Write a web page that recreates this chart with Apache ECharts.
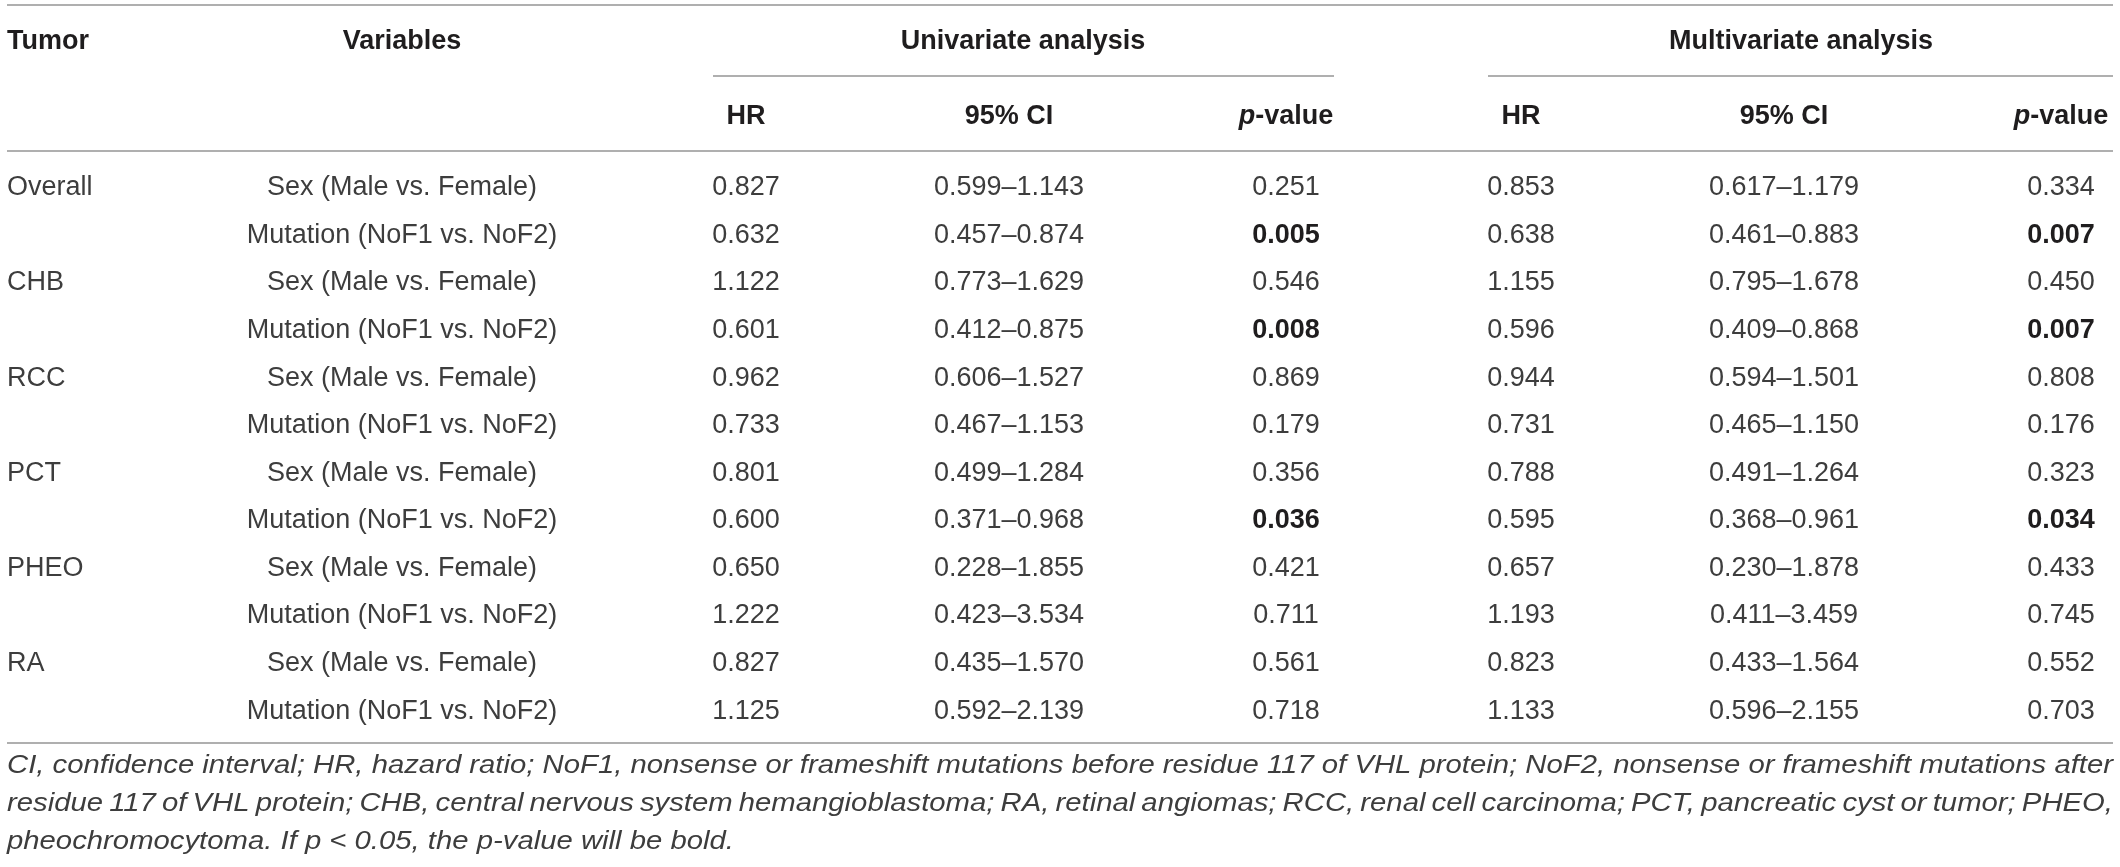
<!DOCTYPE html>
<html>
<head>
<meta charset="utf-8">
<script src="https://cdn.jsdelivr.net/npm/echarts@6/dist/echarts.min.js"></script>
<style>
    html, body { margin: 0; padding: 0; background: #ffffff; }
    #coxTable { width: 2120px; height: 867px; }
</style>
</head>
<body>
<div id="coxTable"></div>
<script>
    // table content
    let tumors = ['Overall', 'CHB', 'RCC', 'PCT', 'PHEO', 'RA'];
    let variables = ['Sex (Male vs. Female)', 'Mutation (NoF1 vs. NoF2)'];

    let uniHR = [0.827, 0.632, 1.122, 0.601, 0.962, 0.733, 0.801, 0.600, 0.650, 1.222, 0.827, 1.125];
    let uniLow = [0.599, 0.457, 0.773, 0.412, 0.606, 0.467, 0.499, 0.371, 0.228, 0.423, 0.435, 0.592];
    let uniHigh = [1.143, 0.874, 1.629, 0.875, 1.527, 1.153, 1.284, 0.968, 1.855, 3.534, 1.570, 2.139];
    let uniP = [0.251, 0.005, 0.546, 0.008, 0.869, 0.179, 0.356, 0.036, 0.421, 0.711, 0.561, 0.718];

    let multiHR = [0.853, 0.638, 1.155, 0.596, 0.944, 0.731, 0.788, 0.595, 0.657, 1.193, 0.823, 1.133];
    let multiLow = [0.617, 0.461, 0.795, 0.409, 0.594, 0.465, 0.491, 0.368, 0.230, 0.411, 0.433, 0.596];
    let multiHigh = [1.179, 0.883, 1.678, 0.868, 1.501, 1.150, 1.264, 0.961, 1.878, 3.459, 1.564, 2.155];
    let multiP = [0.334, 0.007, 0.450, 0.007, 0.808, 0.176, 0.323, 0.034, 0.433, 0.745, 0.552, 0.703];

    let groupHeaders = ['Univariate analysis', 'Multivariate analysis'];
    let subHeaders = ['HR', '95% CI', '{i|p}-value'];
    let footnoteLines = [
        'CI, confidence interval; HR, hazard ratio; NoF1, nonsense or frameshift mutations before residue 117 of VHL protein; NoF2, nonsense or frameshift mutations after',
        'residue 117 of VHL protein; CHB, central nervous system hemangioblastoma; RA, retinal angiomas; RCC, renal cell carcinoma; PCT, pancreatic cyst or tumor; PHEO,',
        'pheochromocytoma. If p < 0.05, the p-value will be bold.'
    ];
    let pCutoff = 0.05;

    // layout
    let FONT = '"Liberation Sans", Arial, Helvetica, sans-serif';
    let TEXT_COLOR = '#3d3d3d';
    let HEAD_COLOR = '#1f1d1e';
    let RULE_COLOR = '#959595';
    let LEFT = 7, RIGHT = 2113;
    let colX = [7, 402, 746, 1009, 1286, 1521, 1784, 2061];
    let colAlign = ['left', 'center', 'center', 'center', 'center', 'center', 'center', 'center'];

    let fmt = function (v) { return v.toFixed(3); };

    let rowCount = uniHR.length;
    let rowNames = [];
    let cells = [];
    for (let r = 0; r < rowCount; r++) {
        rowNames.push('row' + r);
        let rowTexts = [
            r % 2 === 0 ? tumors[r / 2] : '',
            variables[r % 2],
            fmt(uniHR[r]),
            fmt(uniLow[r]) + '–' + fmt(uniHigh[r]),
            fmt(uniP[r]),
            fmt(multiHR[r]),
            fmt(multiLow[r]) + '–' + fmt(multiHigh[r]),
            fmt(multiP[r])
        ];
        let boldCols = { 4: uniP[r] < pCutoff, 7: multiP[r] < pCutoff };
        rowTexts.forEach(function (t, c) {
            if (!t) return;
            cells.push({ col: c, row: r, text: t, bold: !!boldCols[c] });
        });
    }

    let chartDom = document.getElementById('coxTable');
    let myChart = echarts.init(chartDom, null, { renderer: 'canvas' });

    let hLine = function (x1, x2, y) {
        return {
            type: 'line',
            shape: { x1: x1, y1: y, x2: x2, y2: y },
            style: { stroke: RULE_COLOR, lineWidth: 1.7 },
            silent: true
        };
    };

    let headText = function (text, x, y, align) {
        return {
            type: 'text',
            x: x,
            y: y,
            style: {
                text: text,
                fill: HEAD_COLOR,
                fontSize: 27,
                fontWeight: 'bold',
                fontFamily: FONT,
                align: align,
                verticalAlign: 'middle',
                rich: {
                    i: { fontSize: 27, fontWeight: 'bold', fontStyle: 'italic', fontFamily: FONT, fill: HEAD_COLOR }
                }
            },
            silent: true
        };
    };

    // footnote is justified: words placed one by one, glyphs widened a little
    let measureCtx = document.createElement('canvas').getContext('2d');
    let footSize = 25;
    let footTop = 766, footStep = 38;
    let footnoteElements = function () {
        let out = [];
        measureCtx.font = 'italic ' + footSize + 'px ' + FONT;
        let spaceW = measureCtx.measureText(' ').width;
        let stretch = (RIGHT - LEFT) / measureCtx.measureText(footnoteLines[0]).width;
        footnoteLines.forEach(function (line, li) {
            let words = line.split(' ');
            let widths = words.map(function (w) { return measureCtx.measureText(w).width * stretch; });
            let sum = widths.reduce(function (a, b) { return a + b; }, 0);
            let last = li === footnoteLines.length - 1;
            let gap = last ? spaceW * stretch : (RIGHT - LEFT - sum) / (words.length - 1);
            let x = LEFT;
            let y = footTop + li * footStep;
            words.forEach(function (w, i) {
                out.push({
                    type: 'text',
                    x: x,
                    y: y,
                    scaleX: stretch,
                    style: {
                        text: w,
                        fill: TEXT_COLOR,
                        fontSize: footSize,
                        fontStyle: 'italic',
                        fontFamily: FONT,
                        align: 'left',
                        verticalAlign: 'middle'
                    },
                    silent: true
                });
                x += widths[i] + gap;
            });
        });
        return out;
    };

    let graphics = [
        hLine(LEFT, RIGHT, 5),
        hLine(713, 1334, 76),
        hLine(1488, RIGHT, 76),
        hLine(LEFT, RIGHT, 151),
        hLine(LEFT, RIGHT, 743),
        headText('Tumor', LEFT, 42, 'left'),
        headText('Variables', colX[1], 42, 'center'),
        headText(groupHeaders[0], 1023, 42, 'center'),
        headText(groupHeaders[1], 1801, 42, 'center')
    ];
    subHeaders.forEach(function (h, i) {
        graphics.push(headText(h, colX[2 + i], 117, 'center'));
        graphics.push(headText(h, colX[5 + i], 117, 'center'));
    });
    graphics = graphics.concat(footnoteElements());

    let option = {
        animation: false,
        backgroundColor: '#ffffff',
        grid: { left: 0, right: 0, top: 164, height: 571 },
        xAxis: { type: 'value', min: 0, max: 2120, show: false },
        yAxis: { type: 'category', data: rowNames, inverse: true, show: false },
        graphic: graphics,
        series: [
            {
                type: 'custom',
                coordinateSystem: 'cartesian2d',
                data: cells.map(function (c) { return [colX[c.col], c.row]; }),
                renderItem: function (params, api) {
                    let cell = cells[params.dataIndex];
                    let p = api.coord([api.value(0), api.value(1)]);
                    return {
                        type: 'text',
                        x: p[0],
                        y: p[1],
                        style: {
                            text: cell.text,
                            fill: cell.bold ? HEAD_COLOR : TEXT_COLOR,
                            fontSize: 27,
                            fontWeight: cell.bold ? 'bold' : 'normal',
                            fontFamily: FONT,
                            align: colAlign[cell.col],
                            verticalAlign: 'middle'
                        }
                    };
                }
            }
        ]
    };

    myChart.setOption(option);
</script>
</body>
</html>
